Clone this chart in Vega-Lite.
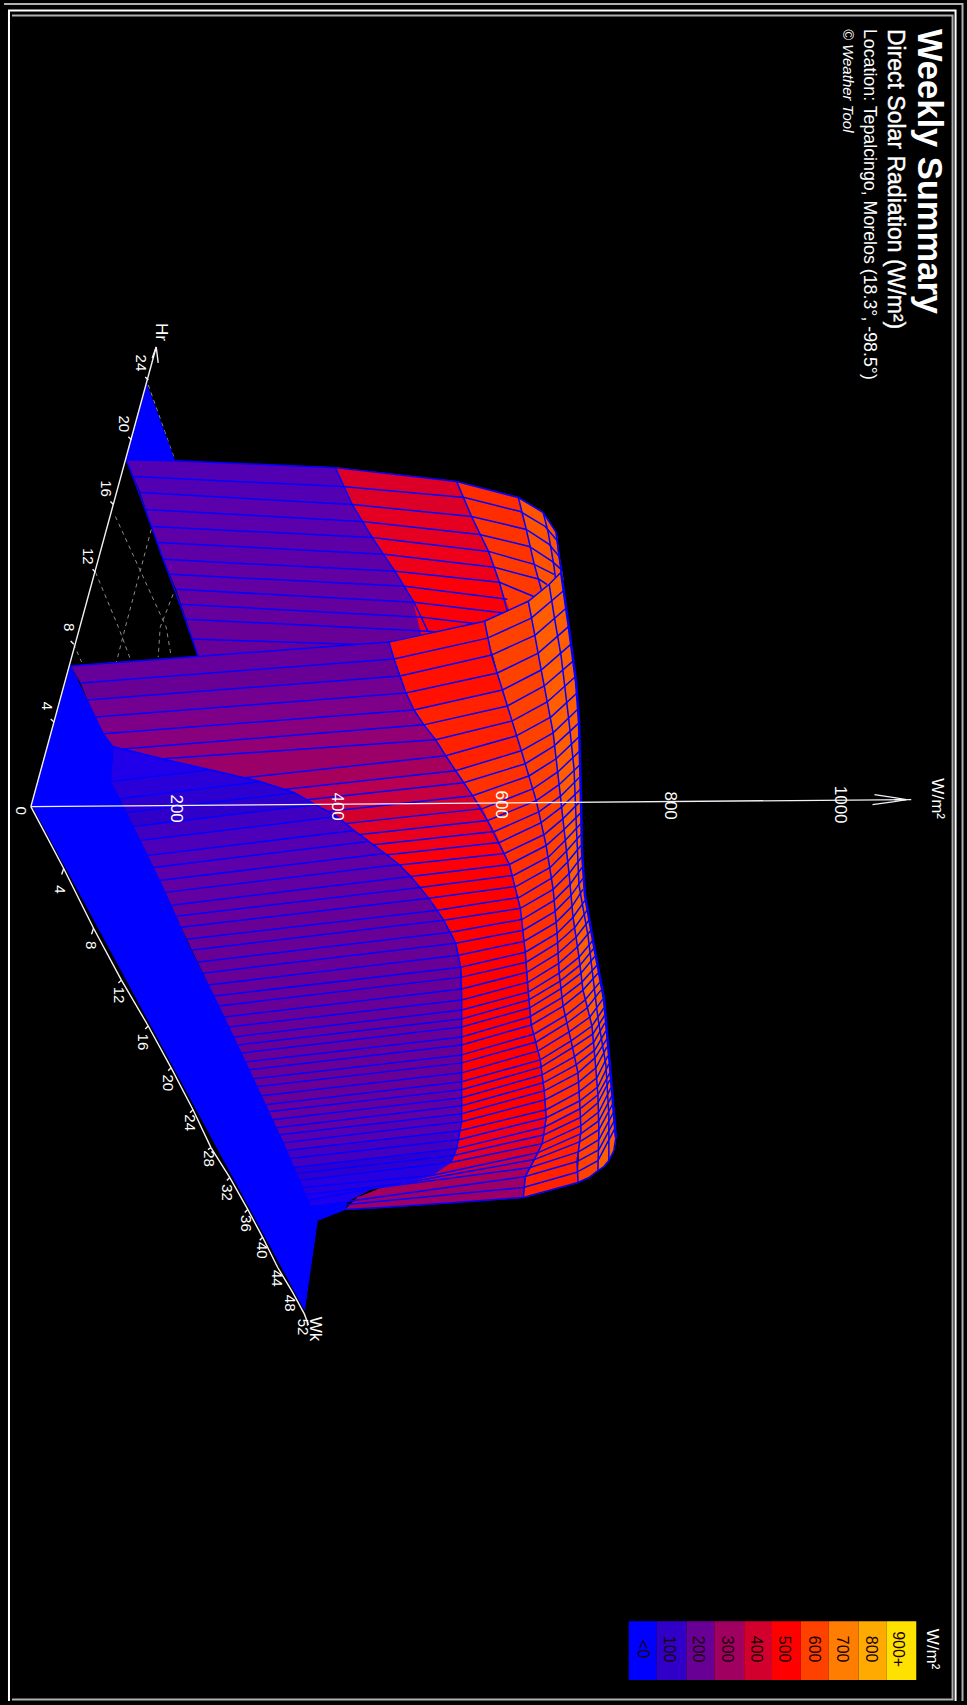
{
"$schema":"https://vega.github.io/schema/vega-lite/v6.json",
"width":967,"height":1705,"padding":0,"autosize":{"type":"fit","contains":"padding"},
"background":"#000000",
"config":{"view":{"stroke":null}},
"datasets":{
"pa":[
{"p":1,"v":140,"x":123,"y":460},{"p":1,"v":140,"x":333,"y":468},{"p":1,"v":140,"x":350,"y":505},{"p":1,"v":140,"x":137,"y":493},
{"p":2,"v":155,"x":137,"y":493},{"p":2,"v":155,"x":350,"y":505},{"p":2,"v":155,"x":370,"y":538},{"p":2,"v":155,"x":148,"y":527},
{"p":3,"v":165,"x":148,"y":527},{"p":3,"v":165,"x":370,"y":538},{"p":3,"v":165,"x":393,"y":572},{"p":3,"v":165,"x":160,"y":560},
{"p":4,"v":175,"x":160,"y":560},{"p":4,"v":175,"x":393,"y":572},{"p":4,"v":175,"x":412,"y":603},{"p":4,"v":175,"x":173,"y":590},
{"p":5,"v":185,"x":173,"y":590},{"p":5,"v":185,"x":412,"y":603},{"p":5,"v":185,"x":426,"y":632},{"p":5,"v":185,"x":183,"y":620},
{"p":6,"v":195,"x":183,"y":620},{"p":6,"v":195,"x":426,"y":632},{"p":6,"v":195,"x":450,"y":655},{"p":6,"v":195,"x":195,"y":657},
{"p":7,"v":420,"x":333,"y":468},{"p":7,"v":420,"x":455,"y":482},{"p":7,"v":420,"x":470,"y":517},{"p":7,"v":420,"x":350,"y":505},
{"p":8,"v":440,"x":350,"y":505},{"p":8,"v":440,"x":470,"y":517},{"p":8,"v":440,"x":487,"y":552},{"p":8,"v":440,"x":370,"y":538},
{"p":9,"v":460,"x":370,"y":538},{"p":9,"v":460,"x":487,"y":552},{"p":9,"v":460,"x":498,"y":583},{"p":9,"v":460,"x":393,"y":572},
{"p":10,"v":490,"x":393,"y":572},{"p":10,"v":490,"x":498,"y":583},{"p":10,"v":490,"x":512,"y":615},{"p":10,"v":490,"x":520,"y":650},{"p":10,"v":490,"x":426,"y":660},{"p":10,"v":490,"x":412,"y":603},
{"p":11,"v":550,"x":455,"y":482},{"p":11,"v":550,"x":517,"y":498},{"p":11,"v":550,"x":525,"y":530},{"p":11,"v":550,"x":470,"y":517},
{"p":12,"v":565,"x":470,"y":517},{"p":12,"v":565,"x":525,"y":530},{"p":12,"v":565,"x":533,"y":565},{"p":12,"v":565,"x":487,"y":552},
{"p":13,"v":580,"x":487,"y":552},{"p":13,"v":580,"x":533,"y":565},{"p":13,"v":580,"x":545,"y":600},{"p":13,"v":580,"x":520,"y":640},{"p":13,"v":580,"x":498,"y":583},
{"p":14,"v":625,"x":517,"y":498},{"p":14,"v":625,"x":542,"y":513},{"p":14,"v":625,"x":555,"y":533},{"p":14,"v":625,"x":558,"y":557},{"p":14,"v":625,"x":562,"y":580},{"p":14,"v":625,"x":545,"y":600},{"p":14,"v":625,"x":533,"y":565},{"p":14,"v":625,"x":525,"y":530},
{"p":15,"v":0,"x":144,"y":385},{"p":15,"v":0,"x":123,"y":460},{"p":15,"v":0,"x":172,"y":461}
],
"la":[
{"l":0,"x":123,"y":460},{"l":0,"x":172,"y":461},{"l":0,"x":333,"y":468},{"l":0,"x":455,"y":482},{"l":0,"x":517,"y":498},{"l":0,"x":542,"y":513},{"l":0,"x":555,"y":533},{"l":0,"x":560,"y":573},
{"l":1,"x":130,"y":477},{"l":1,"x":340,"y":487},{"l":1,"x":463,"y":498},{"l":1,"x":519,"y":512},{"l":1,"x":544,"y":527},{"l":1,"x":556,"y":541},
{"l":2,"x":137,"y":493},{"l":2,"x":350,"y":505},{"l":2,"x":470,"y":517},{"l":2,"x":525,"y":530},{"l":2,"x":548,"y":545},{"l":2,"x":558,"y":557},
{"l":3,"x":142,"y":510},{"l":3,"x":360,"y":522},{"l":3,"x":478,"y":535},{"l":3,"x":528,"y":547},{"l":3,"x":551,"y":562},{"l":3,"x":560,"y":570},
{"l":4,"x":148,"y":527},{"l":4,"x":370,"y":538},{"l":4,"x":487,"y":552},{"l":4,"x":533,"y":565},{"l":4,"x":553,"y":575},
{"l":5,"x":155,"y":543},{"l":5,"x":382,"y":555},{"l":5,"x":493,"y":568},{"l":5,"x":538,"y":580},{"l":5,"x":553,"y":590},
{"l":6,"x":160,"y":560},{"l":6,"x":393,"y":572},{"l":6,"x":498,"y":583},{"l":6,"x":532,"y":597},
{"l":7,"x":167,"y":575},{"l":7,"x":403,"y":587},{"l":7,"x":506,"y":600},
{"l":8,"x":173,"y":590},{"l":8,"x":412,"y":603},{"l":8,"x":512,"y":615},
{"l":9,"x":177,"y":605},{"l":9,"x":420,"y":618},{"l":9,"x":520,"y":630},
{"l":10,"x":183,"y":620},{"l":10,"x":426,"y":632},{"l":10,"x":530,"y":640},
{"l":11,"x":190,"y":640},{"l":11,"x":435,"y":648},
{"l":20,"x":123,"y":460},{"l":20,"x":142,"y":510},{"l":20,"x":160,"y":560},{"l":20,"x":177,"y":605},{"l":20,"x":195,"y":657},
{"l":21,"x":333,"y":468},{"l":21,"x":350,"y":505},{"l":21,"x":370,"y":538},{"l":21,"x":393,"y":572},{"l":21,"x":412,"y":603},{"l":21,"x":426,"y":632},
{"l":22,"x":455,"y":482},{"l":22,"x":470,"y":517},{"l":22,"x":487,"y":552},{"l":22,"x":498,"y":583},{"l":22,"x":506,"y":612},
{"l":23,"x":517,"y":498},{"l":23,"x":525,"y":530},{"l":23,"x":533,"y":565},{"l":23,"x":542,"y":597},
{"l":24,"x":542,"y":513},{"l":24,"x":547,"y":533},{"l":24,"x":550,"y":550},{"l":24,"x":553,"y":568},{"l":24,"x":555,"y":585},
{"l":25,"x":555,"y":533},{"l":25,"x":558,"y":557},{"l":25,"x":561,"y":573}
],
"pr":[
{"p":30,"v":640,"x":560,"y":573},{"p":30,"v":640,"x":570,"y":645},{"p":30,"v":640,"x":577,"y":710},{"p":30,"v":640,"x":579,"y":766},{"p":30,"v":640,"x":580,"y":814},{"p":30,"v":640,"x":581,"y":858},{"p":30,"v":640,"x":584,"y":902},{"p":30,"v":640,"x":592,"y":942},{"p":30,"v":640,"x":597,"y":975},{"p":30,"v":640,"x":603,"y":1010},{"p":30,"v":640,"x":606,"y":1041},{"p":30,"v":640,"x":609,"y":1075},{"p":30,"v":640,"x":612,"y":1106},{"p":30,"v":640,"x":615,"y":1140},{"p":30,"v":640,"x":613,"y":1153},{"p":30,"v":640,"x":608,"y":1163},{"p":30,"v":640,"x":603,"y":1169},{"p":30,"v":640,"x":597,"y":1173},{"p":30,"v":640,"x":598,"y":1132},{"p":30,"v":640,"x":597,"y":1097},{"p":30,"v":640,"x":594,"y":1060},{"p":30,"v":640,"x":591,"y":1028},{"p":30,"v":640,"x":582,"y":992},{"p":30,"v":640,"x":578,"y":959},{"p":30,"v":640,"x":572,"y":919},{"p":30,"v":640,"x":568,"y":875},{"p":30,"v":640,"x":563,"y":831},{"p":30,"v":640,"x":558,"y":786},{"p":30,"v":640,"x":552,"y":734},{"p":30,"v":640,"x":540,"y":671},{"p":30,"v":640,"x":527,"y":602},
{"p":31,"v":600,"x":527,"y":602},{"p":31,"v":600,"x":540,"y":671},{"p":31,"v":600,"x":552,"y":734},{"p":31,"v":600,"x":558,"y":786},{"p":31,"v":600,"x":563,"y":831},{"p":31,"v":600,"x":568,"y":875},{"p":31,"v":600,"x":572,"y":919},{"p":31,"v":600,"x":578,"y":959},{"p":31,"v":600,"x":582,"y":992},{"p":31,"v":600,"x":591,"y":1028},{"p":31,"v":600,"x":594,"y":1060},{"p":31,"v":600,"x":597,"y":1097},{"p":31,"v":600,"x":598,"y":1132},{"p":31,"v":600,"x":597,"y":1173},{"p":31,"v":600,"x":588,"y":1180},{"p":31,"v":600,"x":577,"y":1185},{"p":31,"v":600,"x":579,"y":1144},{"p":31,"v":600,"x":579,"y":1111},{"p":31,"v":600,"x":577,"y":1075},{"p":31,"v":600,"x":570,"y":1043},{"p":31,"v":600,"x":562,"y":1008},{"p":31,"v":600,"x":558,"y":975},{"p":31,"v":600,"x":556,"y":935},{"p":31,"v":600,"x":552,"y":891},{"p":31,"v":600,"x":545,"y":847},{"p":31,"v":600,"x":535,"y":802},{"p":31,"v":600,"x":520,"y":752},{"p":31,"v":600,"x":501,"y":691},{"p":31,"v":600,"x":483,"y":622},
{"p":32,"v":510,"x":483,"y":622},{"p":32,"v":510,"x":490,"y":656},{"p":32,"v":510,"x":501,"y":691},{"p":32,"v":510,"x":412,"y":711},{"p":32,"v":510,"x":398,"y":677},{"p":32,"v":510,"x":387,"y":643},
{"p":33,"v":530,"x":501,"y":691},{"p":33,"v":530,"x":511,"y":722},{"p":33,"v":530,"x":520,"y":752},{"p":33,"v":530,"x":454,"y":772},{"p":33,"v":530,"x":434,"y":741},{"p":33,"v":530,"x":412,"y":711},
{"p":34,"v":560,"x":520,"y":752},{"p":34,"v":560,"x":535,"y":802},{"p":34,"v":560,"x":545,"y":847},{"p":34,"v":560,"x":552,"y":891},{"p":34,"v":560,"x":556,"y":935},{"p":34,"v":560,"x":558,"y":975},{"p":34,"v":560,"x":562,"y":1008},{"p":34,"v":560,"x":570,"y":1043},{"p":34,"v":560,"x":577,"y":1075},{"p":34,"v":560,"x":579,"y":1111},{"p":34,"v":560,"x":544,"y":1129},{"p":34,"v":560,"x":543,"y":1093},{"p":34,"v":560,"x":539,"y":1062},{"p":34,"v":560,"x":530,"y":1027},{"p":34,"v":560,"x":527,"y":994},{"p":34,"v":560,"x":524,"y":954},{"p":34,"v":560,"x":519,"y":910},{"p":34,"v":560,"x":508,"y":866},{"p":34,"v":560,"x":486,"y":822},{"p":34,"v":560,"x":454,"y":772},
{"p":35,"v":530,"x":579,"y":1111},{"p":35,"v":530,"x":580,"y":1128},{"p":35,"v":530,"x":579,"y":1144},{"p":35,"v":530,"x":576,"y":1164},{"p":35,"v":530,"x":577,"y":1185},{"p":35,"v":530,"x":522,"y":1200},{"p":35,"v":530,"x":524,"y":1179},{"p":35,"v":530,"x":533,"y":1162},{"p":35,"v":530,"x":541,"y":1146},{"p":35,"v":530,"x":544,"y":1129},
{"p":40,"v":190,"x":67,"y":667},{"p":40,"v":190,"x":387,"y":643},{"p":40,"v":190,"x":392,"y":660},{"p":40,"v":190,"x":77,"y":684},
{"p":41,"v":200,"x":77,"y":684},{"p":41,"v":200,"x":392,"y":660},{"p":41,"v":200,"x":398,"y":677},{"p":41,"v":200,"x":84,"y":701},
{"p":42,"v":210,"x":84,"y":701},{"p":42,"v":210,"x":398,"y":677},{"p":42,"v":210,"x":404,"y":694},{"p":42,"v":210,"x":92,"y":718},
{"p":43,"v":225,"x":92,"y":718},{"p":43,"v":225,"x":404,"y":694},{"p":43,"v":225,"x":412,"y":711},{"p":43,"v":225,"x":100,"y":735},
{"p":44,"v":240,"x":100,"y":735},{"p":44,"v":240,"x":412,"y":711},{"p":44,"v":240,"x":422,"y":726},{"p":44,"v":240,"x":110,"y":751},
{"p":45,"v":260,"x":110,"y":751},{"p":45,"v":260,"x":422,"y":726},{"p":45,"v":260,"x":434,"y":741},{"p":45,"v":260,"x":118,"y":767},
{"p":46,"v":280,"x":118,"y":767},{"p":46,"v":280,"x":434,"y":741},{"p":46,"v":280,"x":444,"y":757},{"p":46,"v":280,"x":224,"y":781},
{"p":47,"v":310,"x":224,"y":781},{"p":47,"v":310,"x":444,"y":757},{"p":47,"v":310,"x":454,"y":772},{"p":47,"v":310,"x":234,"y":796},
{"p":48,"v":340,"x":234,"y":796},{"p":48,"v":340,"x":454,"y":772},{"p":48,"v":340,"x":462,"y":784},{"p":48,"v":340,"x":242,"y":808},
{"p":49,"v":370,"x":242,"y":808},{"p":49,"v":370,"x":462,"y":784},{"p":49,"v":370,"x":471,"y":797},{"p":49,"v":370,"x":251,"y":821},
{"p":50,"v":400,"x":251,"y":821},{"p":50,"v":400,"x":471,"y":797},{"p":50,"v":400,"x":481,"y":810},{"p":50,"v":400,"x":261,"y":834},
{"p":51,"v":430,"x":261,"y":834},{"p":51,"v":430,"x":481,"y":810},{"p":51,"v":430,"x":486,"y":822},{"p":51,"v":430,"x":267,"y":846},
{"p":52,"v":450,"x":267,"y":846},{"p":52,"v":450,"x":486,"y":822},{"p":52,"v":450,"x":493,"y":833},{"p":52,"v":450,"x":273,"y":857},
{"p":53,"v":470,"x":273,"y":857},{"p":53,"v":470,"x":493,"y":833},{"p":53,"v":470,"x":498,"y":844},{"p":53,"v":470,"x":278,"y":868},
{"p":54,"v":490,"x":278,"y":868},{"p":54,"v":490,"x":498,"y":844},{"p":54,"v":490,"x":508,"y":866},{"p":54,"v":490,"x":408,"y":884},
{"p":55,"v":500,"x":408,"y":884},{"p":55,"v":500,"x":508,"y":866},{"p":55,"v":500,"x":519,"y":910},{"p":55,"v":500,"x":524,"y":954},{"p":55,"v":500,"x":527,"y":994},{"p":55,"v":500,"x":530,"y":1027},{"p":55,"v":500,"x":539,"y":1062},{"p":55,"v":500,"x":543,"y":1093},{"p":55,"v":500,"x":545,"y":1120},{"p":55,"v":500,"x":445,"y":1138},{"p":55,"v":500,"x":360,"y":1000},
{"p":56,"v":460,"x":445,"y":1138},{"p":56,"v":460,"x":545,"y":1120},{"p":56,"v":460,"x":543,"y":1137},{"p":56,"v":460,"x":440,"y":1158},
{"p":57,"v":430,"x":440,"y":1158},{"p":57,"v":430,"x":543,"y":1137},{"p":57,"v":430,"x":541,"y":1146},{"p":57,"v":430,"x":430,"y":1168},
{"p":58,"v":400,"x":430,"y":1168},{"p":58,"v":400,"x":541,"y":1146},{"p":58,"v":400,"x":537,"y":1155},{"p":58,"v":400,"x":410,"y":1178},
{"p":59,"v":370,"x":410,"y":1178},{"p":59,"v":370,"x":537,"y":1155},{"p":59,"v":370,"x":533,"y":1162},{"p":59,"v":370,"x":395,"y":1186},
{"p":60,"v":340,"x":395,"y":1186},{"p":60,"v":340,"x":533,"y":1162},{"p":60,"v":340,"x":529,"y":1170},{"p":60,"v":340,"x":375,"y":1192},
{"p":61,"v":310,"x":375,"y":1192},{"p":61,"v":310,"x":529,"y":1170},{"p":61,"v":310,"x":524,"y":1179},{"p":61,"v":310,"x":355,"y":1200},
{"p":62,"v":285,"x":355,"y":1200},{"p":62,"v":285,"x":524,"y":1179},{"p":62,"v":285,"x":522,"y":1200},{"p":62,"v":285,"x":453,"y":1205},{"p":62,"v":285,"x":380,"y":1210},{"p":62,"v":285,"x":343,"y":1212}
],
"lr":[
{"l":0,"x":67,"y":667},{"l":0,"x":387,"y":643},{"l":0,"x":483,"y":622},{"l":0,"x":527,"y":602},{"l":0,"x":548,"y":585},{"l":0,"x":560,"y":573},
{"l":1,"x":77,"y":684},{"l":1,"x":392,"y":660},{"l":1,"x":486,"y":639},{"l":1,"x":530,"y":619},{"l":1,"x":563,"y":591},
{"l":2,"x":84,"y":701},{"l":2,"x":398,"y":677},{"l":2,"x":490,"y":656},{"l":2,"x":534,"y":636},{"l":2,"x":565,"y":609},
{"l":3,"x":92,"y":718},{"l":3,"x":404,"y":694},{"l":3,"x":496,"y":674},{"l":3,"x":537,"y":654},{"l":3,"x":568,"y":627},
{"l":4,"x":100,"y":735},{"l":4,"x":412,"y":711},{"l":4,"x":501,"y":691},{"l":4,"x":540,"y":671},{"l":4,"x":570,"y":645},
{"l":5,"x":110,"y":751},{"l":5,"x":422,"y":726},{"l":5,"x":506,"y":707},{"l":5,"x":543,"y":687},{"l":5,"x":572,"y":662},
{"l":6,"x":160,"y":760},{"l":6,"x":434,"y":741},{"l":6,"x":511,"y":722},{"l":6,"x":546,"y":703},{"l":6,"x":574,"y":678},
{"l":7,"x":224,"y":781},{"l":7,"x":444,"y":757},{"l":7,"x":515,"y":737},{"l":7,"x":550,"y":718},{"l":7,"x":576,"y":694},
{"l":8,"x":234,"y":796},{"l":8,"x":454,"y":772},{"l":8,"x":520,"y":752},{"l":8,"x":552,"y":734},{"l":8,"x":577,"y":710},
{"l":9,"x":242,"y":808},{"l":9,"x":462,"y":784},{"l":9,"x":524,"y":765},{"l":9,"x":553,"y":747},{"l":9,"x":578,"y":724},
{"l":10,"x":251,"y":821},{"l":10,"x":471,"y":797},{"l":10,"x":528,"y":777},{"l":10,"x":555,"y":760},{"l":10,"x":578,"y":738},
{"l":11,"x":261,"y":834},{"l":11,"x":481,"y":810},{"l":11,"x":532,"y":790},{"l":11,"x":557,"y":773},{"l":11,"x":579,"y":752},
{"l":12,"x":267,"y":846},{"l":12,"x":486,"y":822},{"l":12,"x":535,"y":802},{"l":12,"x":558,"y":786},{"l":12,"x":579,"y":766},
{"l":13,"x":273,"y":857},{"l":13,"x":493,"y":833},{"l":13,"x":538,"y":813},{"l":13,"x":560,"y":797},{"l":13,"x":579,"y":778},
{"l":14,"x":278,"y":868},{"l":14,"x":498,"y":844},{"l":14,"x":540,"y":824},{"l":14,"x":561,"y":808},{"l":14,"x":580,"y":790},
{"l":15,"x":283,"y":879},{"l":15,"x":503,"y":855},{"l":15,"x":543,"y":836},{"l":15,"x":562,"y":820},{"l":15,"x":580,"y":802},
{"l":16,"x":409,"y":878},{"l":16,"x":508,"y":866},{"l":16,"x":545,"y":847},{"l":16,"x":563,"y":831},{"l":16,"x":580,"y":814},
{"l":17,"x":418,"y":889},{"l":17,"x":512,"y":877},{"l":17,"x":548,"y":858},{"l":17,"x":564,"y":842},{"l":17,"x":580,"y":825},
{"l":18,"x":427,"y":900},{"l":18,"x":515,"y":888},{"l":18,"x":549,"y":869},{"l":18,"x":565,"y":853},{"l":18,"x":580,"y":836},
{"l":19,"x":436,"y":912},{"l":19,"x":518,"y":899},{"l":19,"x":550,"y":880},{"l":19,"x":566,"y":864},{"l":19,"x":580,"y":847},
{"l":20,"x":442,"y":922},{"l":20,"x":519,"y":910},{"l":20,"x":552,"y":891},{"l":20,"x":568,"y":875},{"l":20,"x":581,"y":858},
{"l":21,"x":449,"y":934},{"l":21,"x":521,"y":921},{"l":21,"x":553,"y":902},{"l":21,"x":569,"y":886},{"l":21,"x":581,"y":869},
{"l":22,"x":454,"y":945},{"l":22,"x":522,"y":932},{"l":22,"x":554,"y":913},{"l":22,"x":570,"y":897},{"l":22,"x":582,"y":880},
{"l":23,"x":457,"y":957},{"l":23,"x":523,"y":943},{"l":23,"x":555,"y":924},{"l":23,"x":571,"y":908},{"l":23,"x":582,"y":891},
{"l":24,"x":459,"y":969},{"l":24,"x":524,"y":954},{"l":24,"x":556,"y":935},{"l":24,"x":572,"y":919},{"l":24,"x":584,"y":902},
{"l":25,"x":460,"y":979},{"l":25,"x":525,"y":964},{"l":25,"x":556,"y":945},{"l":25,"x":574,"y":929},{"l":25,"x":586,"y":912},
{"l":26,"x":460,"y":991},{"l":26,"x":526,"y":974},{"l":26,"x":557,"y":955},{"l":26,"x":575,"y":939},{"l":26,"x":588,"y":922},
{"l":27,"x":460,"y":1002},{"l":27,"x":527,"y":984},{"l":27,"x":558,"y":965},{"l":27,"x":576,"y":949},{"l":27,"x":590,"y":932},
{"l":28,"x":460,"y":1012},{"l":28,"x":527,"y":994},{"l":28,"x":558,"y":975},{"l":28,"x":578,"y":959},{"l":28,"x":592,"y":942},
{"l":29,"x":460,"y":1021},{"l":29,"x":527,"y":1002},{"l":29,"x":559,"y":983},{"l":29,"x":579,"y":967},{"l":29,"x":593,"y":950},
{"l":30,"x":460,"y":1029},{"l":30,"x":528,"y":1010},{"l":30,"x":559,"y":991},{"l":30,"x":580,"y":975},{"l":30,"x":594,"y":958},
{"l":31,"x":460,"y":1039},{"l":31,"x":528,"y":1019},{"l":31,"x":560,"y":1000},{"l":31,"x":581,"y":984},{"l":31,"x":596,"y":967},
{"l":32,"x":460,"y":1047},{"l":32,"x":530,"y":1027},{"l":32,"x":562,"y":1008},{"l":32,"x":582,"y":992},{"l":32,"x":597,"y":975},
{"l":33,"x":460,"y":1057},{"l":33,"x":533,"y":1036},{"l":33,"x":565,"y":1017},{"l":33,"x":584,"y":1002},{"l":33,"x":599,"y":984},
{"l":34,"x":460,"y":1065},{"l":34,"x":535,"y":1044},{"l":34,"x":566,"y":1025},{"l":34,"x":586,"y":1010},{"l":34,"x":600,"y":992},
{"l":35,"x":460,"y":1075},{"l":35,"x":537,"y":1053},{"l":35,"x":568,"y":1034},{"l":35,"x":589,"y":1019},{"l":35,"x":602,"y":1001},
{"l":36,"x":460,"y":1084},{"l":36,"x":539,"y":1062},{"l":36,"x":570,"y":1043},{"l":36,"x":591,"y":1028},{"l":36,"x":603,"y":1010},
{"l":37,"x":460,"y":1092},{"l":37,"x":540,"y":1069},{"l":37,"x":571,"y":1050},{"l":37,"x":592,"y":1036},{"l":37,"x":604,"y":1017},
{"l":38,"x":460,"y":1100},{"l":38,"x":541,"y":1077},{"l":38,"x":573,"y":1059},{"l":38,"x":593,"y":1044},{"l":38,"x":604,"y":1025},
{"l":39,"x":460,"y":1108},{"l":39,"x":542,"y":1085},{"l":39,"x":575,"y":1067},{"l":39,"x":594,"y":1052},{"l":39,"x":605,"y":1033},
{"l":40,"x":460,"y":1116},{"l":40,"x":543,"y":1093},{"l":40,"x":577,"y":1075},{"l":40,"x":594,"y":1060},{"l":40,"x":606,"y":1041},
{"l":41,"x":460,"y":1124},{"l":41,"x":544,"y":1102},{"l":41,"x":578,"y":1084},{"l":41,"x":595,"y":1070},{"l":41,"x":606,"y":1049},
{"l":42,"x":458,"y":1133},{"l":42,"x":545,"y":1112},{"l":42,"x":578,"y":1094},{"l":42,"x":596,"y":1080},{"l":42,"x":607,"y":1058},
{"l":43,"x":457,"y":1142},{"l":43,"x":545,"y":1120},{"l":43,"x":579,"y":1103},{"l":43,"x":597,"y":1089},{"l":43,"x":608,"y":1066},
{"l":44,"x":455,"y":1151},{"l":44,"x":544,"y":1129},{"l":44,"x":579,"y":1111},{"l":44,"x":597,"y":1097},{"l":44,"x":609,"y":1075},
{"l":45,"x":452,"y":1158},{"l":45,"x":543,"y":1137},{"l":45,"x":579,"y":1120},{"l":45,"x":597,"y":1105},{"l":45,"x":609,"y":1082},
{"l":46,"x":449,"y":1165},{"l":46,"x":541,"y":1146},{"l":46,"x":580,"y":1128},{"l":46,"x":598,"y":1114},{"l":46,"x":610,"y":1090},
{"l":47,"x":430,"y":1178},{"l":47,"x":537,"y":1155},{"l":47,"x":580,"y":1136},{"l":47,"x":598,"y":1123},{"l":47,"x":611,"y":1098},
{"l":48,"x":400,"y":1186},{"l":48,"x":533,"y":1162},{"l":48,"x":579,"y":1144},{"l":48,"x":598,"y":1132},{"l":48,"x":612,"y":1106},
{"l":49,"x":370,"y":1191},{"l":49,"x":529,"y":1170},{"l":49,"x":578,"y":1154},{"l":49,"x":598,"y":1142},{"l":49,"x":613,"y":1114},
{"l":50,"x":345,"y":1204},{"l":50,"x":524,"y":1179},{"l":50,"x":576,"y":1164},{"l":50,"x":598,"y":1152},{"l":50,"x":614,"y":1122},
{"l":51,"x":345,"y":1207},{"l":51,"x":522,"y":1190},{"l":51,"x":575,"y":1175},{"l":51,"x":597,"y":1163},{"l":51,"x":614,"y":1131},
{"l":52,"x":343,"y":1212},{"l":52,"x":380,"y":1210},{"l":52,"x":453,"y":1205},{"l":52,"x":522,"y":1200},{"l":52,"x":577,"y":1185},{"l":52,"x":588,"y":1180},{"l":52,"x":597,"y":1173},{"l":52,"x":603,"y":1169},{"l":52,"x":608,"y":1163},{"l":52,"x":613,"y":1153},{"l":52,"x":615,"y":1140},
{"l":60,"x":387,"y":643},{"l":60,"x":392,"y":660},{"l":60,"x":398,"y":677},{"l":60,"x":404,"y":694},{"l":60,"x":412,"y":711},{"l":60,"x":422,"y":726},{"l":60,"x":434,"y":741},{"l":60,"x":444,"y":757},{"l":60,"x":454,"y":772},{"l":60,"x":471,"y":797},{"l":60,"x":486,"y":822},{"l":60,"x":508,"y":866},{"l":60,"x":519,"y":910},{"l":60,"x":524,"y":954},{"l":60,"x":527,"y":994},{"l":60,"x":530,"y":1027},{"l":60,"x":539,"y":1062},{"l":60,"x":543,"y":1093},{"l":60,"x":545,"y":1120},{"l":60,"x":541,"y":1146},{"l":60,"x":533,"y":1162},{"l":60,"x":524,"y":1179},{"l":60,"x":522,"y":1200},
{"l":61,"x":483,"y":622},{"l":61,"x":490,"y":656},{"l":61,"x":501,"y":691},{"l":61,"x":510,"y":720},{"l":61,"x":520,"y":752},{"l":61,"x":535,"y":802},{"l":61,"x":545,"y":847},{"l":61,"x":552,"y":891},{"l":61,"x":556,"y":935},{"l":61,"x":558,"y":975},{"l":61,"x":562,"y":1008},{"l":61,"x":570,"y":1043},{"l":61,"x":577,"y":1075},{"l":61,"x":579,"y":1111},{"l":61,"x":580,"y":1133},{"l":61,"x":576,"y":1164},{"l":61,"x":577,"y":1185},
{"l":62,"x":527,"y":602},{"l":62,"x":533,"y":633},{"l":62,"x":540,"y":671},{"l":62,"x":552,"y":734},{"l":62,"x":558,"y":786},{"l":62,"x":563,"y":831},{"l":62,"x":568,"y":875},{"l":62,"x":572,"y":919},{"l":62,"x":578,"y":959},{"l":62,"x":582,"y":992},{"l":62,"x":591,"y":1028},{"l":62,"x":594,"y":1060},{"l":62,"x":597,"y":1097},{"l":62,"x":598,"y":1132},{"l":62,"x":597,"y":1173},
{"l":63,"x":548,"y":585},{"l":63,"x":553,"y":617},{"l":63,"x":560,"y":657},{"l":63,"x":568,"y":723},{"l":63,"x":573,"y":770},{"l":63,"x":575,"y":820},{"l":63,"x":578,"y":887},{"l":63,"x":587,"y":937},{"l":63,"x":593,"y":987},{"l":63,"x":597,"y":1020},{"l":63,"x":605,"y":1067},{"l":63,"x":608,"y":1117},{"l":63,"x":608,"y":1163}
],
"edge":[
{"l":64,"x":560,"y":573},{"l":64,"x":568,"y":630},{"l":64,"x":575,"y":683},{"l":64,"x":578,"y":723},{"l":64,"x":580,"y":803},{"l":64,"x":581,"y":853},{"l":64,"x":584,"y":897},{"l":64,"x":594,"y":953},{"l":64,"x":603,"y":1000},{"l":64,"x":609,"y":1067},{"l":64,"x":615,"y":1140}
],
"pl":[
{"p":70,"v":40,"x":110,"y":748},{"p":70,"v":40,"x":167,"y":762},{"p":70,"v":40,"x":207,"y":771},{"p":70,"v":40,"x":107,"y":783},
{"p":71,"v":70,"x":107,"y":783},{"p":71,"v":70,"x":207,"y":771},{"p":71,"v":70,"x":258,"y":783},{"p":71,"v":70,"x":116,"y":800},
{"p":72,"v":85,"x":116,"y":800},{"p":72,"v":85,"x":258,"y":783},{"p":72,"v":85,"x":292,"y":794},{"p":72,"v":85,"x":123,"y":814},
{"p":73,"v":100,"x":123,"y":814},{"p":73,"v":100,"x":292,"y":794},{"p":73,"v":100,"x":313,"y":806},{"p":73,"v":100,"x":130,"y":828},
{"p":74,"v":115,"x":130,"y":828},{"p":74,"v":115,"x":313,"y":806},{"p":74,"v":115,"x":335,"y":818},{"p":74,"v":115,"x":137,"y":842},
{"p":75,"v":130,"x":137,"y":842},{"p":75,"v":130,"x":335,"y":818},{"p":75,"v":130,"x":352,"y":832},{"p":75,"v":130,"x":144,"y":857},
{"p":76,"v":145,"x":144,"y":857},{"p":76,"v":145,"x":352,"y":832},{"p":76,"v":145,"x":367,"y":843},{"p":76,"v":145,"x":150,"y":869},
{"p":77,"v":160,"x":150,"y":869},{"p":77,"v":160,"x":367,"y":843},{"p":77,"v":160,"x":383,"y":855},{"p":77,"v":160,"x":156,"y":882},
{"p":78,"v":175,"x":156,"y":882},{"p":78,"v":175,"x":383,"y":855},{"p":78,"v":175,"x":397,"y":866},{"p":78,"v":175,"x":409,"y":878},{"p":78,"v":175,"x":168,"y":907},
{"p":79,"v":190,"x":168,"y":907},{"p":79,"v":190,"x":409,"y":878},{"p":79,"v":190,"x":418,"y":889},{"p":79,"v":190,"x":427,"y":900},{"p":79,"v":190,"x":178,"y":929},
{"p":80,"v":200,"x":178,"y":929},{"p":80,"v":200,"x":427,"y":900},{"p":80,"v":200,"x":436,"y":912},{"p":80,"v":200,"x":442,"y":922},{"p":80,"v":200,"x":449,"y":934},{"p":80,"v":200,"x":454,"y":945},{"p":80,"v":200,"x":457,"y":957},{"p":80,"v":200,"x":459,"y":969},{"p":80,"v":200,"x":460,"y":979},{"p":80,"v":200,"x":460,"y":1084},{"p":80,"v":200,"x":263,"y":1107},
{"p":81,"v":190,"x":263,"y":1107},{"p":81,"v":190,"x":460,"y":1084},{"p":81,"v":190,"x":460,"y":1100},{"p":81,"v":190,"x":270,"y":1122},
{"p":82,"v":175,"x":270,"y":1122},{"p":82,"v":175,"x":460,"y":1100},{"p":82,"v":175,"x":460,"y":1116},{"p":82,"v":175,"x":277,"y":1137},
{"p":83,"v":150,"x":277,"y":1137},{"p":83,"v":150,"x":460,"y":1116},{"p":83,"v":150,"x":458,"y":1133},{"p":83,"v":150,"x":284,"y":1153},
{"p":84,"v":120,"x":284,"y":1153},{"p":84,"v":120,"x":458,"y":1133},{"p":84,"v":120,"x":455,"y":1151},{"p":84,"v":120,"x":291,"y":1170},
{"p":85,"v":90,"x":291,"y":1170},{"p":85,"v":90,"x":455,"y":1151},{"p":85,"v":90,"x":449,"y":1165},{"p":85,"v":90,"x":297,"y":1183},
{"p":86,"v":60,"x":297,"y":1183},{"p":86,"v":60,"x":449,"y":1165},{"p":86,"v":60,"x":430,"y":1178},{"p":86,"v":60,"x":400,"y":1186},{"p":86,"v":60,"x":303,"y":1197},
{"p":87,"v":30,"x":303,"y":1197},{"p":87,"v":30,"x":400,"y":1186},{"p":87,"v":30,"x":370,"y":1191},{"p":87,"v":30,"x":345,"y":1204},{"p":87,"v":30,"x":308,"y":1209},
{"p":88,"v":0,"x":28,"y":807},{"p":88,"v":0,"x":67,"y":667},{"p":88,"v":0,"x":100,"y":735},{"p":88,"v":0,"x":110,"y":748},{"p":88,"v":0,"x":107,"y":783},{"p":88,"v":0,"x":116,"y":800},{"p":88,"v":0,"x":157,"y":883},{"p":88,"v":0,"x":187,"y":950},{"p":88,"v":0,"x":217,"y":1010},{"p":88,"v":0,"x":247,"y":1073},{"p":88,"v":0,"x":283,"y":1150},{"p":88,"v":0,"x":303,"y":1197},{"p":88,"v":0,"x":308,"y":1209},{"p":88,"v":0,"x":345,"y":1204},{"p":88,"v":0,"x":343,"y":1212},{"p":88,"v":0,"x":315,"y":1223},{"p":88,"v":0,"x":302,"y":1313}
],
"ll":[
{"l":7,"x":107,"y":783},{"l":7,"x":207,"y":771},{"l":8,"x":116,"y":800},{"l":8,"x":258,"y":783},{"l":9,"x":123,"y":814},{"l":9,"x":292,"y":794},{"l":10,"x":130,"y":828},{"l":10,"x":313,"y":806},{"l":11,"x":137,"y":842},{"l":11,"x":335,"y":818},{"l":12,"x":144,"y":857},{"l":12,"x":352,"y":832},{"l":13,"x":150,"y":869},{"l":13,"x":367,"y":843},{"l":14,"x":156,"y":882},{"l":14,"x":383,"y":855},{"l":15,"x":162,"y":894},{"l":15,"x":397,"y":866},{"l":16,"x":168,"y":907},{"l":16,"x":409,"y":878},{"l":17,"x":173,"y":918},{"l":17,"x":418,"y":889},{"l":18,"x":178,"y":929},{"l":18,"x":427,"y":900},{"l":19,"x":183,"y":941},{"l":19,"x":436,"y":912},{"l":20,"x":188,"y":952},{"l":20,"x":442,"y":922},{"l":21,"x":194,"y":964},{"l":21,"x":449,"y":934},{"l":22,"x":200,"y":975},{"l":22,"x":454,"y":945},{"l":23,"x":205,"y":987},{"l":23,"x":457,"y":957},{"l":24,"x":211,"y":998},{"l":24,"x":459,"y":969},{"l":25,"x":216,"y":1008},{"l":25,"x":460,"y":979},{"l":26,"x":221,"y":1019},{"l":26,"x":460,"y":991},{"l":27,"x":226,"y":1029},{"l":27,"x":460,"y":1002},{"l":28,"x":231,"y":1039},{"l":28,"x":460,"y":1012},{"l":29,"x":235,"y":1047},{"l":29,"x":460,"y":1021},{"l":30,"x":239,"y":1055},{"l":30,"x":460,"y":1029},{"l":31,"x":243,"y":1064},{"l":31,"x":460,"y":1039},{"l":32,"x":246,"y":1072},{"l":32,"x":460,"y":1047},{"l":33,"x":251,"y":1081},{"l":33,"x":460,"y":1057},{"l":34,"x":254,"y":1089},{"l":34,"x":460,"y":1065},{"l":35,"x":259,"y":1098},{"l":35,"x":460,"y":1075},{"l":36,"x":263,"y":1107},{"l":36,"x":460,"y":1084},{"l":37,"x":266,"y":1114},{"l":37,"x":460,"y":1092},{"l":38,"x":270,"y":1122},{"l":38,"x":460,"y":1100},{"l":39,"x":274,"y":1130},{"l":39,"x":460,"y":1108},{"l":40,"x":277,"y":1137},{"l":40,"x":460,"y":1116},{"l":41,"x":281,"y":1145},{"l":41,"x":460,"y":1124},{"l":42,"x":284,"y":1153},{"l":42,"x":458,"y":1133},{"l":43,"x":288,"y":1161},{"l":43,"x":457,"y":1142},{"l":44,"x":291,"y":1170},{"l":44,"x":455,"y":1151},{"l":45,"x":294,"y":1176},{"l":45,"x":452,"y":1158},{"l":46,"x":297,"y":1183},{"l":46,"x":449,"y":1165},{"l":47,"x":300,"y":1190},{"l":47,"x":430,"y":1178},{"l":48,"x":303,"y":1197},{"l":48,"x":400,"y":1186},{"l":49,"x":305,"y":1203},{"l":49,"x":370,"y":1191},
{"l":60,"x":110,"y":748},{"l":60,"x":167,"y":762},{"l":60,"x":207,"y":771},{"l":60,"x":258,"y":783},{"l":60,"x":292,"y":794},{"l":60,"x":313,"y":806},{"l":60,"x":335,"y":818},{"l":60,"x":352,"y":832},{"l":60,"x":367,"y":843},{"l":60,"x":383,"y":855},{"l":60,"x":397,"y":866},{"l":60,"x":409,"y":878},{"l":60,"x":427,"y":900},{"l":60,"x":442,"y":922},{"l":60,"x":454,"y":945},{"l":60,"x":459,"y":969},{"l":60,"x":460,"y":1000},{"l":60,"x":460,"y":1124},{"l":60,"x":455,"y":1151},{"l":60,"x":449,"y":1165}
],
"dash":[
{"l":1,"x":92,"y":573},{"l":1,"x":115,"y":628},{"l":1,"x":127,"y":660},
{"l":2,"x":112,"y":517},{"l":2,"x":163,"y":628},{"l":2,"x":168,"y":657},
{"l":3,"x":148,"y":530},{"l":3,"x":122,"y":628},{"l":3,"x":113,"y":663},
{"l":4,"x":170,"y":595},{"l":4,"x":157,"y":628},{"l":4,"x":155,"y":658},
{"l":5,"x":145,"y":385},{"l":5,"x":172,"y":461},
{"l":6,"x":70,"y":645},{"l":6,"x":78,"y":663}
],
"ax":[
{"l":1,"x":27,"y":808},{"l":1,"x":153,"y":347},
{"l":2,"x":27,"y":808},{"l":2,"x":60,"y":870},{"l":2,"x":90,"y":930},{"l":2,"x":118,"y":982},{"l":2,"x":145,"y":1028},{"l":2,"x":168,"y":1070},{"l":2,"x":190,"y":1112},{"l":2,"x":208,"y":1150},{"l":2,"x":227,"y":1180},{"l":2,"x":245,"y":1212},{"l":2,"x":260,"y":1240},{"l":2,"x":275,"y":1270},{"l":2,"x":290,"y":1295},{"l":2,"x":302,"y":1317},{"l":2,"x":306,"y":1328},
{"l":3,"x":27,"y":808},{"l":3,"x":912,"y":801},
{"l":4,"x":155,"y":363},{"l":4,"x":153,"y":347},{"l":4,"x":149,"y":358},
{"l":5,"x":875,"y":796},{"l":5,"x":895,"y":799},{"l":5,"x":907,"y":801},{"l":5,"x":895,"y":803},{"l":5,"x":873,"y":806},
{"l":6,"x":895,"y":801},{"l":6,"x":907,"y":801},
{"l":10,"x":50,"y":723},{"l":10,"x":47,"y":720},{"l":11,"x":70,"y":645},{"l":11,"x":67,"y":642},{"l":12,"x":92,"y":573},{"l":12,"x":89,"y":570},{"l":13,"x":110,"y":505},{"l":13,"x":107,"y":502},{"l":14,"x":128,"y":440},{"l":14,"x":125,"y":437},{"l":15,"x":145,"y":380},{"l":15,"x":142,"y":377},
{"l":20,"x":60,"y":870},{"l":20,"x":58,"y":876},{"l":21,"x":90,"y":930},{"l":21,"x":88,"y":936},{"l":22,"x":118,"y":982},{"l":22,"x":115,"y":985},{"l":23,"x":145,"y":1028},{"l":23,"x":142,"y":1031},{"l":24,"x":168,"y":1070},{"l":24,"x":165,"y":1073},{"l":25,"x":190,"y":1112},{"l":25,"x":187,"y":1115},{"l":26,"x":208,"y":1150},{"l":26,"x":205,"y":1152},{"l":27,"x":227,"y":1180},{"l":27,"x":224,"y":1183},{"l":28,"x":245,"y":1212},{"l":28,"x":242,"y":1215},{"l":29,"x":260,"y":1240},{"l":29,"x":257,"y":1243}
],
"frame":[
{"l":1,"x":5,"y":1705},{"l":1,"x":5,"y":9.5},{"l":1,"x":956.5,"y":9.5},{"l":1,"x":956.5,"y":1705}
],
"frame2":[
{"l":2,"x":8,"y":14.5},{"l":2,"x":953.5,"y":14.5},{"l":2,"x":953.5,"y":1703.5},{"l":2,"x":8,"y":1703.5},
{"l":3,"x":0,"y":3},{"l":3,"x":963.5,"y":3},{"l":3,"x":963.5,"y":1705}
],
"lg":[
{"v":0,"a":628,"b":656,"m":642,"t":"<0","y":1625,"e":1684,"n":1653},{"v":100,"a":656,"b":686,"m":668,"t":"100","y":1625,"e":1684,"n":1653},{"v":200,"a":686,"b":714,"m":698,"t":"200","y":1625,"e":1684,"n":1653},{"v":300,"a":714,"b":744,"m":727,"t":"300","y":1625,"e":1684,"n":1653},{"v":400,"a":744,"b":772,"m":756,"t":"400","y":1625,"e":1684,"n":1653},{"v":500,"a":772,"b":801,"m":784,"t":"500","y":1625,"e":1684,"n":1653},{"v":600,"a":801,"b":829,"m":814,"t":"600","y":1625,"e":1684,"n":1653},{"v":700,"a":829,"b":859,"m":842,"t":"700","y":1625,"e":1684,"n":1653},{"v":800,"a":859,"b":887,"m":872,"t":"800","y":1625,"e":1684,"n":1653},{"v":900,"a":887,"b":917,"m":899,"t":"900+","y":1625,"e":1684,"n":1653}
],
"lb":[
{"t":"0","x":17,"y":812,"s":15},{"t":"4","x":43,"y":707,"s":15},{"t":"8","x":65,"y":628,"s":15},{"t":"12","x":84,"y":557,"s":15},{"t":"16","x":103,"y":489,"s":15},{"t":"20","x":121,"y":424,"s":15},{"t":"24","x":138,"y":363,"s":15},{"t":"Hr","x":158,"y":332,"s":17},
{"t":"4","x":56,"y":891,"s":15},{"t":"8","x":87,"y":947,"s":15},{"t":"12","x":116,"y":997,"s":15},{"t":"16","x":140,"y":1044,"s":15},{"t":"20","x":165,"y":1085,"s":15},{"t":"24","x":187,"y":1125,"s":15},{"t":"28","x":206,"y":1161,"s":15},{"t":"32","x":224,"y":1195,"s":15},{"t":"36","x":243,"y":1226,"s":15},{"t":"40","x":259,"y":1253,"s":15},{"t":"44","x":274,"y":1281,"s":15},{"t":"48","x":287,"y":1306,"s":15},{"t":"52","x":301,"y":1330,"s":15},{"t":"Wk","x":313,"y":1332,"s":17},
{"t":"200","x":173,"y":810,"s":17},{"t":"400","x":335,"y":808,"s":17},{"t":"600","x":500,"y":806,"s":17},{"t":"800","x":669,"y":807,"s":17},{"t":"1000","x":840,"y":806,"s":17},{"t":"W/m²","x":938,"y":800,"s":17},{"t":"W/m²","x":933,"y":1653,"s":17}
],
"t1":[{"t":"Weekly Summary","x":929,"y":28}],
"t2":[{"t":"Direct Solar Radiation (W/m²)","x":896,"y":28}],
"t3":[{"t":"Location: Tepalcingo, Morelos (18.3°, -98.5°)","x":869,"y":28}],
"t4":[{"t":"© Weather Tool","x":848,"y":28}]
},
"encoding":{
"x":{"field":"x","type":"quantitative","axis":null,"scale":{"domain":[0,967],"nice":false,"zero":false}},
"y":{"field":"y","type":"quantitative","axis":null,"scale":{"domain":[1705,0],"nice":false,"zero":false}}
},
"layer":[
{"data":{"name":"dash"},"mark":{"type":"line","stroke":"#8a8a8a","strokeWidth":1,"strokeDash":[4,4]},"encoding":{"detail":{"field":"l"},"order":{"value":null}}},
{"data":{"name":"pa"},"mark":{"type":"line","strokeWidth":1},"encoding":{"detail":{"field":"p"},"order":{"value":null},
"fill":{"field":"v","type":"quantitative","legend":null,"scale":{"domain":[0,100,200,300,400,500,600,700,800,900],"range":["#0000ff","#3000c8","#690096","#a0005f","#d2002d","#ff0000","#ff4100","#ff7d00","#ffaa00","#ffe100"]}},
"stroke":{"field":"v","type":"quantitative","legend":null,"scale":{"domain":[0,100,200,300,400,500,600,700,800,900],"range":["#0000ff","#3000c8","#690096","#a0005f","#d2002d","#ff0000","#ff4100","#ff7d00","#ffaa00","#ffe100"]}}}},
{"data":{"name":"la"},"mark":{"type":"line","stroke":"#0000ff","strokeWidth":1.5},"encoding":{"detail":{"field":"l"},"order":{"value":null}}},
{"data":{"name":"pr"},"mark":{"type":"line","strokeWidth":1},"encoding":{"detail":{"field":"p"},"order":{"value":null},
"fill":{"field":"v","type":"quantitative","legend":null,"scale":{"domain":[0,100,200,300,400,500,600,700,800,900],"range":["#0000ff","#3000c8","#690096","#a0005f","#d2002d","#ff0000","#ff4100","#ff7d00","#ffaa00","#ffe100"]}},
"stroke":{"field":"v","type":"quantitative","legend":null,"scale":{"domain":[0,100,200,300,400,500,600,700,800,900],"range":["#0000ff","#3000c8","#690096","#a0005f","#d2002d","#ff0000","#ff4100","#ff7d00","#ffaa00","#ffe100"]}}}},
{"data":{"name":"lr"},"mark":{"type":"line","stroke":"#0000ff","strokeWidth":1.5},"encoding":{"detail":{"field":"l"},"order":{"value":null}}},
{"data":{"name":"edge"},"mark":{"type":"line","stroke":"#0000ff","strokeWidth":2.5},"encoding":{"detail":{"field":"l"},"order":{"value":null}}},
{"data":{"name":"pl"},"mark":{"type":"line","strokeWidth":1},"encoding":{"detail":{"field":"p"},"order":{"value":null},
"fill":{"field":"v","type":"quantitative","legend":null,"scale":{"domain":[0,100,200,300,400,500,600,700,800,900],"range":["#0000ff","#3000c8","#690096","#a0005f","#d2002d","#ff0000","#ff4100","#ff7d00","#ffaa00","#ffe100"]}},
"stroke":{"field":"v","type":"quantitative","legend":null,"scale":{"domain":[0,100,200,300,400,500,600,700,800,900],"range":["#0000ff","#3000c8","#690096","#a0005f","#d2002d","#ff0000","#ff4100","#ff7d00","#ffaa00","#ffe100"]}}}},
{"data":{"name":"ll"},"mark":{"type":"line","stroke":"#0000ff","strokeWidth":1.5},"encoding":{"detail":{"field":"l"},"order":{"value":null}}},
{"data":{"name":"ax"},"mark":{"type":"line","stroke":"#f4f0f8","strokeWidth":1.4},"encoding":{"detail":{"field":"l"},"order":{"value":null}}},
{"data":{"name":"frame"},"mark":{"type":"line","stroke":"#ffffff","strokeWidth":2},"encoding":{"detail":{"field":"l"},"order":{"value":null}}},
{"data":{"name":"frame2"},"mark":{"type":"line","stroke":"#b0b0b0","strokeWidth":2},"encoding":{"detail":{"field":"l"},"order":{"value":null}}},
{"data":{"name":"lg"},"mark":{"type":"rect"},"encoding":{
"x":{"field":"a","type":"quantitative","axis":null,"scale":{"domain":[0,967],"nice":false,"zero":false}},"x2":{"field":"b"},
"y":{"field":"y","type":"quantitative","axis":null,"scale":{"domain":[1705,0],"nice":false,"zero":false}},"y2":{"field":"e"},
"fill":{"field":"v","type":"quantitative","legend":null,"scale":{"domain":[0,100,200,300,400,500,600,700,800,900],"range":["#0000ff","#3000c8","#690096","#a0005f","#d2002d","#ff0000","#ff4100","#ff7d00","#ffaa00","#ffe100"]}}}},
{"data":{"name":"lg"},"mark":{"type":"text","angle":90,"align":"center","baseline":"middle","font":"Liberation Sans","fontSize":16,"fill":"#1a0008"},"encoding":{
"x":{"field":"m","type":"quantitative","axis":null,"scale":{"domain":[0,967],"nice":false,"zero":false}},
"y":{"field":"n","type":"quantitative","axis":null,"scale":{"domain":[1705,0],"nice":false,"zero":false}},"text":{"field":"t"}}},
{"data":{"name":"lb"},"mark":{"type":"text","angle":90,"align":"center","baseline":"middle","font":"Liberation Sans","fill":"#ffffff"},"encoding":{"text":{"field":"t"},"size":{"field":"s","type":"quantitative","scale":null}}},
{"data":{"name":"t1"},"mark":{"type":"text","angle":90,"align":"left","baseline":"middle","font":"Liberation Sans","fontWeight":"bold","fontSize":34.5,"fill":"#ffffff"},"encoding":{"text":{"field":"t"}}},
{"data":{"name":"t2"},"mark":{"type":"text","angle":90,"align":"left","baseline":"middle","font":"Liberation Sans","fontSize":23,"fill":"#ffffff","stroke":"#ffffff","strokeWidth":0.4},"encoding":{"text":{"field":"t"}}},
{"data":{"name":"t3"},"mark":{"type":"text","angle":90,"align":"left","baseline":"middle","font":"Liberation Sans","fontSize":17.8,"fill":"#ffffff"},"encoding":{"text":{"field":"t"}}},
{"data":{"name":"t4"},"mark":{"type":"text","angle":90,"align":"left","baseline":"middle","font":"Liberation Sans","fontStyle":"italic","fontSize":15,"fill":"#ffffff"},"encoding":{"text":{"field":"t"}}}
]
}
